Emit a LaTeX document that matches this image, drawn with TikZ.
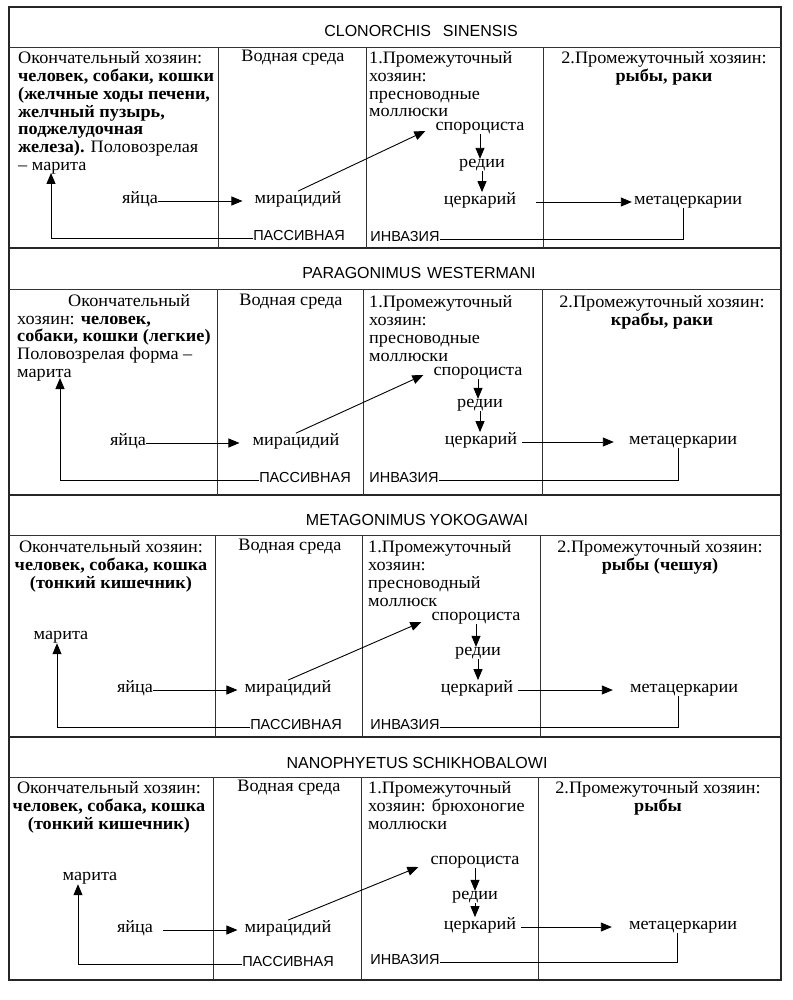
\documentclass[tikz,border=0pt]{standalone}
\usepackage{fontspec}
\setmainfont[FakeStretch=1.04]{Liberation Serif}
\newfontfamily\sansf{Liberation Sans}
\usetikzlibrary{arrows.meta,calc}
\tikzset{
  frame/.style={line width=1.1pt, draw=black!85},
  sepline/.style={line width=0.9pt, draw=black!80},
  body/.style={font=\fontsize{17.5}{17.8}\selectfont, inner sep=0pt},
  lbl/.style={body, anchor=mid},
  blockl/.style={body, align=left, anchor=base west},
  blockc/.style={body, align=center, anchor=base},
  head/.style={font=\sansf\fontsize{16}{18}\selectfont, inner sep=0pt, anchor=mid},
  invl/.style={font=\sansf\fontsize{14.5}{17}\selectfont, inner sep=0pt, anchor=mid},
  arr/.style={line width=0.9pt, -{Triangle[length=11pt,width=9pt]}},
  ln/.style={line width=0.9pt},
}
\begin{document}
\begin{tikzpicture}[x=1pt,y=-1pt]
\useasboundingbox (0,0) rectangle (792,1000);
\fill[white] (0,0) rectangle (792,1000);

% ---------- frames ----------
\draw[frame] (9,7) rectangle (781,980);
\draw[frame] (9,248) -- (781,248);
\draw[frame] (9,495) -- (781,495);
\draw[frame] (9,737) -- (781,737);
\draw[sepline] (9,47) -- (781,47);
\draw[sepline] (9,289) -- (781,289);
\draw[sepline] (9,535) -- (781,535);
\draw[sepline] (9,777) -- (781,777);
\foreach \x in {218,366,543} \draw[sepline] (\x,47) -- (\x,248);
\foreach \x in {217,363,542} \draw[sepline] (\x,289) -- (\x,495);
\foreach \x in {215,362,540} \draw[sepline] (\x,535) -- (\x,737);
\foreach \x in {213,361,538} \draw[sepline] (\x,777) -- (\x,980);

% ---------- titles ----------
\node[head] (t1) at (421,34) {CLONORCHIS\hspace{12pt}SINENSIS};
\node[head] (t2) at (419,276) {PARAGONIMUS\hspace{6pt}WESTERMANI};
\node[head] (t3) at (417,523) {METAGONIMUS\hspace{4pt}YOKOGAWAI};
\node[head] (t4) at (417,766) {NANOPHYETUS\hspace{4pt}SCHIKHOBALOWI};

% ================= Section 1 =================
\node[blockl] (d1) at (18,170.5) {Окончательный хозяин:\\
  \textbf{человек, собаки, кошки}\\
  \textbf{(желчные ходы печени,}\\
  \textbf{желчный пузырь,}\\
  \textbf{поджелудочная}\\
  \textbf{железа).} Половозрелая\\
  – марита};
\node[lbl] (w1) at (293,59) {Водная среда};
\node[blockl] (p1) at (369,117) {1.Промежуточный\\хозяин:\\пресноводные\\моллюски};
\node[blockc] (q1) at (664,81.3) {2.Промежуточный хозяин:\\\textbf{рыбы, раки}};
\node[lbl] (egg1) at (140,201) {яйца};
\node[lbl] (mir1) at (298,201) {мирацидий};
\node[lbl] (sp1) at (480,128) {спороциста};
\node[lbl] (re1) at (482,165) {редии};
\node[lbl] (ce1) at (480,202) {церкарий};
\node[lbl] (me1) at (688,202) {метацеркарии};
\node[invl] (pa1) at (299,238) {ПАССИВНАЯ};
\node[invl] (in1) at (405,239) {ИНВАЗИЯ};
\coordinate (mt1) at (51,173);
\draw[arr, shorten >=12pt] (egg1.mid east) -- (mir1.mid west);
\draw[arr] (mir1.north) -- ($(sp1.mid west)+(-10,3)$);
\draw[arr] (sp1.south) -- (sp1.south |- re1.north);
\draw[arr] (re1.south) -- (re1.south |- ce1.north);
\draw[arr, shorten <=20pt, shorten >=2pt] (ce1.mid east) -- (me1.mid west);
\draw[ln] ([xshift=-5pt]me1.south) |- (in1.mid east);
\draw[arr] (pa1.mid west) -| (mt1);

% ================= Section 2 =================
\node[blockl] (d2) at (17,377.5) {\hspace*{51pt}Окончательный\\
  хозяин: \textbf{человек,}\\
  \textbf{собаки, кошки (легкие)}\\
  Половозрелая форма –\\
  марита};
\node[lbl] (w2) at (291,303) {Водная среда};
\node[blockl] (p2) at (369,361) {1.Промежуточный\\хозяин:\\пресноводные\\моллюски};
\node[blockc] (q2) at (662,325.3) {2.Промежуточный хозяин:\\\textbf{крабы, раки}};
\node[lbl] (egg2) at (128,443) {яйца};
\node[lbl] (mir2) at (296,443) {мирацидий};
\node[lbl] (sp2) at (478,373) {спороциста};
\node[lbl] (re2) at (480,405) {редии};
\node[lbl] (ce2) at (481,442) {церкарий};
\node[lbl] (me2) at (683,442) {метацеркарии};
\node[invl] (pa2) at (305,480) {ПАССИВНАЯ};
\node[invl] (in2) at (404,480) {ИНВАЗИЯ};
\coordinate (mt2) at (60,378);
\draw[arr, shorten >=13pt] (egg2.mid east) -- (mir2.mid west);
\draw[arr] (mir2.north) -- ($(sp2.mid west)+(-10,2)$);
\draw[arr] (sp2.south) -- (sp2.south |- re2.north);
\draw[arr] (re2.south) -- (re2.south |- ce2.north);
\draw[arr, shorten <=5pt, shorten >=15pt] (ce2.mid east) -- (me2.mid west);
\draw[ln] ([xshift=-5pt]me2.south) |- (in2.mid east);
\draw[arr] (pa2.mid west) -| (mt2);

% ================= Section 3 =================
\node[blockc] (d3) at (111,588) {Окончательный хозяин:\\
  \textbf{человек, собака, кошка}\\
  \textbf{(тонкий кишечник)}};
\node[lbl] (ma3) at (61,637) {марита};
\node[lbl] (w3) at (290,548) {Водная среда};
\node[blockl] (p3) at (368,606) {1.Промежуточный\\хозяин:\\пресноводный\\моллюск};
\node[blockc] (q3) at (660,570.3) {2.Промежуточный хозяин:\\\textbf{рыбы (чешуя)}};
\node[lbl] (egg3) at (135,690) {яйца};
\node[lbl] (mir3) at (288,690) {мирацидий};
\node[lbl] (sp3) at (476,618) {спороциста};
\node[lbl] (re3) at (478,653) {редии};
\node[lbl] (ce3) at (477,690) {церкарий};
\node[lbl] (me3) at (684,690) {метацеркарии};
\node[invl] (pa3) at (296,727) {ПАССИВНАЯ};
\node[invl] (in3) at (405,727) {ИНВАЗИЯ};
\draw[arr, shorten >=7pt] (egg3.mid east) -- (mir3.mid west);
\draw[arr] (mir3.north) -- ($(sp3.mid west)+(-10,4)$);
\draw[arr] (sp3.south) -- (sp3.south |- re3.north);
\draw[arr] (re3.south) -- (re3.south |- ce3.north);
\draw[arr, shorten <=5pt, shorten >=17pt] (ce3.mid east) -- (me3.mid west);
\draw[ln] ([xshift=-6pt]me3.south) |- (in3.mid east);
\draw[arr] (pa3.mid west) -| ([xshift=-4pt]ma3.south);

% ================= Section 4 =================
\node[blockc] (d4) at (109,829) {Окончательный хозяин:\\
  \textbf{человек, собака, кошка}\\
  \textbf{(тонкий кишечник)}};
\node[lbl] (ma4) at (90,878) {марита};
\node[lbl] (w4) at (289,789) {Водная среда};
\node[blockl] (p4) at (368,829) {1.Промежуточный\\хозяин: брюхоногие\\моллюски};
\node[blockc] (q4) at (658,811.3) {2.Промежуточный хозяин:\\\textbf{рыбы}};
\node[lbl] (egg4) at (135,930) {яйца};
\node[lbl] (mir4) at (288,930) {мирацидий};
\node[lbl] (sp4) at (475,862) {спороциста};
\node[lbl] (re4) at (475,897) {редии};
\node[lbl] (ce4) at (480,927) {церкарий};
\node[lbl] (me4) at (683,927) {метацеркарии};
\node[invl] (pa4) at (288,964) {ПАССИВНАЯ};
\node[invl] (in4) at (405,962) {ИНВАЗИЯ};
\draw[arr, shorten <=10pt, shorten >=7pt] (egg4.mid east) -- (mir4.mid west);
\draw[arr] (mir4.north) -- ($(sp4.mid west)+(-12,5)$);
\draw[arr] (sp4.south) -- (sp4.south |- re4.north);
\draw[arr] (re4.south) -- (re4.south |- ce4.north);
\draw[arr, shorten <=5pt, shorten >=17pt] (ce4.mid east) -- (me4.mid west);
\draw[ln] ([xshift=-6pt]me4.south) |- (in4.mid east);
\draw[arr] (pa4.mid west) -| ([xshift=-12pt]ma4.south);
\end{tikzpicture}
\end{document}
